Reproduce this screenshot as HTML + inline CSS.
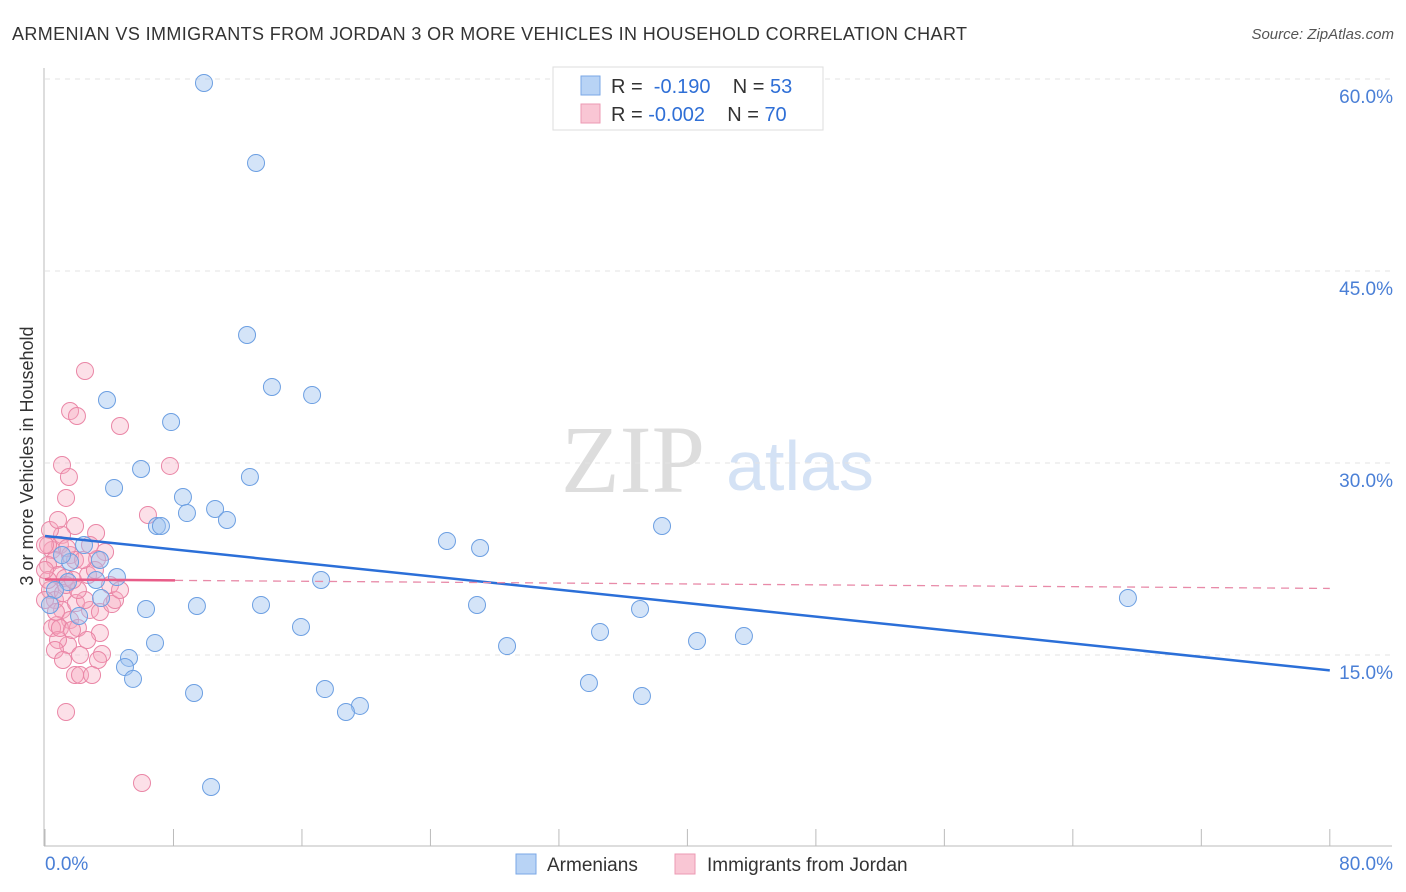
<!DOCTYPE html>
<html><head><meta charset="utf-8"><style>
body{margin:0;background:#fff;font-family:"Liberation Sans",sans-serif;}
#wrap{position:relative;width:1406px;height:892px;overflow:hidden;}
</style></head><body>
<div id="wrap">
<svg id="svg" width="1406" height="892" xmlns="http://www.w3.org/2000/svg">
<text x="12" y="40" font-size="18" fill="#333" textLength="955">ARMENIAN VS IMMIGRANTS FROM JORDAN 3 OR MORE VEHICLES IN HOUSEHOLD CORRELATION CHART</text>
<text x="1394" y="39" font-size="15" fill="#555" font-style="italic" text-anchor="end">Source: ZipAtlas.com</text>
<text x="33" y="456" font-size="18" fill="#333" text-anchor="middle" transform="rotate(-90 33 456)">3 or more Vehicles in Household</text>
<text x="633" y="492" font-size="96" fill="#ddd" font-family="Liberation Serif,serif" text-anchor="middle">ZIP</text>
<text x="800" y="490" font-size="70" fill="#d4e2f5" text-anchor="middle">atlas</text>
<g id="grid"></g><g id="pts"></g><g id="lines"></g>
<g>
<rect x="553" y="67" width="270" height="63" fill="#fff" stroke="#ddd"/>
<rect x="581" y="76" width="19" height="19" fill="#b8d3f5" stroke="#7aa7e6"/>
<rect x="581" y="104" width="19" height="19" fill="#f9c6d4" stroke="#ec9ab3"/>
<text x="611" y="93" font-size="20" fill="#333" xml:space="preserve">R =  <tspan fill="#2f6fd6">-0.190</tspan>    N = <tspan fill="#2f6fd6">53</tspan></text>
<text x="611" y="121" font-size="20" fill="#333" xml:space="preserve">R = <tspan fill="#2f6fd6">-0.002</tspan>    N = <tspan fill="#2f6fd6">70</tspan></text>
</g>
<g>
<rect x="516" y="854" width="20" height="20" fill="#b8d3f5" stroke="#7aa7e6"/>
<text x="547" y="871" font-size="19" fill="#333">Armenians</text>
<rect x="675" y="854" width="20" height="20" fill="#f9c6d4" stroke="#ec9ab3"/>
<text x="707" y="871" font-size="19" fill="#333">Immigrants from Jordan</text>
</g>
</svg>
</div>
<script>
const xTicks=[0,80];
const yTicks=[15,30,45,60];
const bluePx=[[204,83],[256,163],[247,335],[272,387],[312,395],[107,400],[171,422],[141,469],[250,477],[114,488],[183,497],[215,509],[187,513],[227,520],[157,526],[161,526],[662,526],[447,541],[480,548],[84,545],[100,560],[70,562],[117,577],[96,580],[321,580],[1128,598],[101,598],[477,605],[146,609],[197,606],[261,605],[640,609],[79,616],[301,627],[600,632],[744,636],[697,641],[155,643],[507,646],[129,658],[125,667],[133,679],[589,683],[194,693],[325,689],[642,696],[360,706],[346,712],[211,787],[68,582],[62,555],[55,590],[50,605]];
const pinkPx=[[85,371],[70,411],[77,416],[120,426],[62,465],[170,466],[69,477],[66,498],[148,515],[75,526],[62,535],[96,533],[105,552],[97,559],[60,545],[52,550],[55,560],[70,555],[48,565],[58,575],[65,578],[50,590],[55,600],[62,610],[70,620],[78,628],[90,610],[100,612],[112,604],[115,600],[63,593],[76,603],[57,625],[52,628],[68,645],[80,655],[58,640],[100,633],[102,654],[98,660],[75,675],[80,675],[92,675],[66,712],[142,783],[85,600],[88,575],[75,560],[48,580],[48,545],[55,650],[60,628],[72,630],[87,640],[50,530],[66,585],[78,590],[90,545],[95,570],[83,560],[58,520],[45,600],[45,570],[45,545],[67,548],[73,580],[56,612],[110,585],[120,590],[63,660]];
const blueX=bluePx.map(p=>+((p[0]-45)/16.06).toFixed(2));
const blueY=bluePx.map(p=>+((847-p[1])/12.8).toFixed(2));
const pinkX=pinkPx.map(p=>+((p[0]-45)/16.06).toFixed(2));
const pinkY=pinkPx.map(p=>+((847-p[1])/12.8).toFixed(2));
const blueTrend=[24.3,13.8];
const pinkTrend=[20.9,20.2];
const X=v=>45+v*16.06, Y=v=>847-v*12.8;
const NS="http://www.w3.org/2000/svg";
function mk(tag,attrs,parent){const e=document.createElementNS(NS,tag);for(const k in attrs)e.setAttribute(k,attrs[k]);parent.appendChild(e);return e;}
const grid=document.getElementById('grid'),pts=document.getElementById('pts'),lines=document.getElementById('lines');
yTicks.forEach(t=>{
 const l=mk('line',{x1:45,x2:1392,y1:Y(t),y2:Y(t),stroke:'#e3e3e3','stroke-dasharray':'5,5'},grid);
 
 
 const tx=mk('text',{x:1393,y:Y(t)+24,'font-size':19,fill:'#4a7fd6','text-anchor':'end'},grid);
 tx.textContent=t.toFixed(1)+'%';
 
 
});
mk('line',{x1:44,x2:44,y1:68,y2:846,stroke:'#bbb'},grid);
mk('line',{x1:44,x2:1392,y1:846,y2:846,stroke:'#bbb'},grid);
for(let i=0;i<=10;i++){mk('line',{x1:X(i*8),x2:X(i*8),y1:829,y2:846,stroke:'#bbb'},grid);}
xTicks.forEach((t,i)=>{
 const tx=mk('text',{x:i==0?45:1393,y:870,'font-size':19,fill:'#4a7fd6','text-anchor':i==0?'start':'end'},grid);
 tx.textContent=t.toFixed(1)+'%';
 
 
});
pinkX.forEach((x,i)=>{
 const c=mk('circle',{cx:X(x),cy:Y(pinkY[i]),r:8.5,fill:'rgba(245,165,190,0.35)',stroke:'#ea86a6','stroke-width':1},pts);
 
 
});
blueX.forEach((x,i)=>{
 const c=mk('circle',{cx:X(x),cy:Y(blueY[i]),r:8.5,fill:'rgba(160,195,240,0.45)',stroke:'#6c9fe2','stroke-width':1},pts);
 
 
});
const bl=mk('line',{x1:X(0),y1:Y(blueTrend[0]),x2:X(80),y2:Y(blueTrend[1]),stroke:'#2b6fd8','stroke-width':2.5},lines);


const px=8.1, pyMid=pinkTrend[0]+(pinkTrend[1]-pinkTrend[0])*px/80;
const pl=mk('line',{x1:X(0),y1:Y(pinkTrend[0]),x2:X(px),y2:Y(pyMid),stroke:'#e85c88','stroke-width':2.5},lines);


const pd=mk('line',{x1:X(px),y1:Y(pyMid),x2:X(80),y2:Y(pinkTrend[1]),stroke:'#e88aa8','stroke-width':1.3,'stroke-dasharray':'8,6'},lines);


</script>
</body></html>
